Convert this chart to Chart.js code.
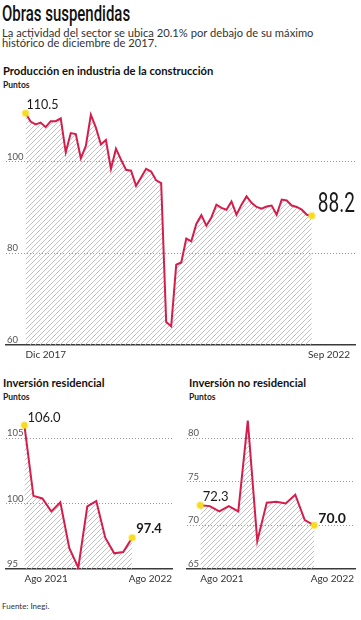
<!DOCTYPE html>
<html>
<head>
<meta charset="utf-8">
<script src="https://cdn.jsdelivr.net/npm/chart.js@4.4.0/dist/chart.umd.min.js"></script>
<style>
  body { margin: 0; width: 361px; height: 620px; background: #fff; position: relative; overflow: hidden; font-family: Lato, sans-serif; color: #1c1c1c; }
  .abs { position: absolute; white-space: nowrap; }
  #title { left: 2px; top: 3px; font: 500 22px/22px Roboto, sans-serif; transform: scaleX(0.68); transform-origin: 0 0; color: #111; }
  #sub { left: 2px; top: 27.5px; font-size: 11.2px; line-height: 10.8px; color: #333; }
  .h { font-weight: 700; font-size: 11.2px; line-height: 14px; color: #111; }
  .u { font-weight: 700; font-size: 8.5px; line-height: 10px; color: #222; }
  #src { left: 2px; top: 601px; font-size: 8px; line-height: 10px; color: #333; }
  canvas { position: absolute; }
</style>
</head>
<body>
<div class="abs" id="title">Obras suspendidas</div>
<div class="abs" id="sub">La actividad del sector se ubica 20.1% por debajo de su máximo<br>histórico de diciembre de 2017.</div>
<div class="abs h" style="left:3px;top:64px">Producción en industria de la construcción</div>
<div class="abs u" style="left:3px;top:80px">Puntos</div>
<div class="abs h" style="left:3px;top:376px">Inversión residencial</div>
<div class="abs u" style="left:3px;top:392px">Puntos</div>
<div class="abs h" style="left:189px;top:376px">Inversión no residencial</div>
<div class="abs u" style="left:189px;top:392px">Puntos</div>
<div class="abs" id="src">Fuente: Inegi.</div>

<canvas id="construccion" width="361" height="280" style="left:0;top:90px"></canvas>
<canvas id="residencial" width="180" height="200" style="left:0;top:395px"></canvas>
<canvas id="noResidencial" width="181" height="200" style="left:180px;top:395px"></canvas>

<script>
// Producción en industria de la construcción, Dic 2017 - Sep 2022 (monthly)
const constrValues = [110.5, 108.7, 108.1, 108.5, 107.5, 108.8, 108.8, 109.4, 102.0, 106.2,
  106.0, 100.7, 103.4, 110.2, 107.4, 103.7, 104.7, 98.4, 102.8, 100.4,
  98.2, 98.0, 94.7, 96.5, 98.4, 97.8, 95.9, 95.3, 65.0, 64.1,
  77.5, 78.0, 83.2, 82.6, 86.4, 88.3, 86.0, 87.8, 90.6, 89.9,
  89.5, 91.3, 88.4, 90.6, 92.4, 91.0, 90.1, 89.7, 90.2, 90.4,
  88.4, 91.7, 91.5, 90.4, 90.1, 89.5, 88.4, 88.2];
const constrDates = ['Dic 2017', 'Sep 2022'];
const constrTicks = [60, 80, 100];

// Inversión residencial, Ago 2021 - Ago 2022
const resValues = [106.0, 100.6, 100.4, 99.4, 100.1, 96.6, 95.1, 99.8, 100.2, 97.4, 96.2, 96.3, 97.4];
const resDates = ['Ago 2021', 'Ago 2022'];
const resTicks = [95, 100, 105];

// Inversión no residencial, Ago 2021 - Ago 2022
const nonResValues = [72.3, 72.2, 71.6, 72.2, 71.6, 82.0, 68.2, 72.6, 72.7, 72.5, 73.5, 70.6, 70.0];
const nonResDates = ['Ago 2021', 'Ago 2022'];
const nonResTicks = [65, 70, 75, 80];

const RED = '#d51d4b';
const YELLOW = '#f6dc20';

// diagonal hatch for the area under the line
const hatch = () => {
  const c = document.createElement('canvas');
  c.width = c.height = 5;
  const g = c.getContext('2d');
  g.strokeStyle = '#b3b3b3';
  g.lineWidth = 0.8;
  g.beginPath();
  g.moveTo(0, 5); g.lineTo(5, 0);
  g.moveTo(-1, 1); g.lineTo(1, -1);
  g.moveTo(4, 6); g.lineTo(6, 4);
  g.stroke();
  return g.createPattern(c, 'repeat');
};

// value labels next to the marked points + first / last date under the axis
const marksPlugin = (labels, dates, dateDy, dateR) => ({
  id: 'marks',
  afterDatasetsDraw(chart) {
    const ctx = chart.ctx;
    const pts = chart.getDatasetMeta(0).data;
    const data = chart.data.datasets[0].data;
    const area = chart.chartArea;
    ctx.save();
    ctx.textBaseline = 'middle';
    ctx.fillStyle = '#1a1a1a';
    labels.forEach(l => {
      const p = pts[l.index];
      ctx.save();
      ctx.translate(p.x + l.dx, p.y + l.dy);
      ctx.scale(l.sx || 1, 1);
      ctx.font = l.font;
      ctx.textAlign = 'left';
      ctx.fillText(data[l.index].y.toFixed(1), 0, 0);
      ctx.restore();
    });
    ctx.font = '10px Lato';
    ctx.fillStyle = '#333';
    ctx.textAlign = 'left';
    ctx.fillText(dates[0], pts[0].x, area.bottom + dateDy);
    ctx.textAlign = 'right';
    ctx.fillText(dates[1], area.right - dateR, area.bottom + dateDy);
    ctx.restore();
  }
});

const makeChart = (id, values, o) => {
  const last = values.length - 1;
  return new Chart(document.getElementById(id), {
    type: 'line',
    data: {
      datasets: [{
        data: values.map((v, i) => ({ x: i, y: v })),
        borderColor: RED,
        borderWidth: 2,
        fill: 'start',
        backgroundColor: hatch(),
        tension: 0,
        pointRadius: c => (c.dataIndex === 0 || c.dataIndex === last) ? 3 : 0,
        pointBackgroundColor: YELLOW,
        pointBorderColor: 'rgba(246,220,32,0.45)',
        pointBorderWidth: 2
      }]
    },
    options: {
      responsive: false,
      animation: false,
      events: [],
      layout: { padding: o.padding },
      plugins: { legend: { display: false }, tooltip: { enabled: false } },
      scales: {
        x: {
          type: 'linear', min: o.xMin, max: o.xMax,
          grid: { display: false },
          ticks: { display: false },
          border: { display: true, color: '#3a3a3a', width: 1.5 }
        },
        y: {
          min: o.yMin, max: o.yMax,
          afterBuildTicks: s => { s.ticks = o.ticks.map(v => ({ value: v })); },
          grid: {
            drawTicks: false,
            color: c => c.tick && c.tick.value === o.yMin ? 'rgba(0,0,0,0)' : '#9a9a9a',
            lineWidth: 1
          },
          border: { display: false, dash: [1, 2] },
          ticks: { mirror: true, padding: 1, labelOffset: -5, color: '#555', font: { family: 'Lato', size: 9.5 } }
        }
      }
    },
    plugins: [marksPlugin(o.labels, o.dates, o.dateDy, o.dateR)]
  });
};

makeChart('construccion', constrValues, {
  padding: { top: 7.3, bottom: 17, left: 0, right: 1 },
  xMin: -3.9, xMax: 65.6, yMin: 60, yMax: 114, ticks: constrTicks,
  dates: constrDates, dateDy: 10, dateR: 5,
  labels: [
    { index: 0, dx: 1, dy: -8.5, font: '12.5px Lato' },
    { index: constrValues.length - 1, dx: 6, dy: -11, font: '28px Roboto', sx: 0.68 }
  ]
});

makeChart('residencial', resValues, {
  padding: { top: 10.7, bottom: 18, left: 0, right: 8 },
  xMin: -2.05, xMax: 16.43, yMin: 95, yMax: 107.5, ticks: resTicks,
  dates: resDates, dateDy: 10, dateR: 0,
  labels: [
    { index: 0, dx: 3, dy: -7.5, font: '13px Lato' },
    { index: resValues.length - 1, dx: 4, dy: -8.5, font: 'bold 13px Lato' }
  ]
});

makeChart('noResidencial', nonResValues, {
  padding: { top: 10.7, bottom: 18, left: 5, right: 1 },
  xMin: -1.4, xMax: 16.29, yMin: 65, yMax: 83.7, ticks: nonResTicks,
  dates: nonResDates, dateDy: 10, dateR: 1,
  labels: [
    { index: 0, dx: 2.5, dy: -8, font: '13px Lato' },
    { index: nonResValues.length - 1, dx: 4, dy: -7, font: 'bold 14px Lato' }
  ]
});
</script>
</body>
</html>
